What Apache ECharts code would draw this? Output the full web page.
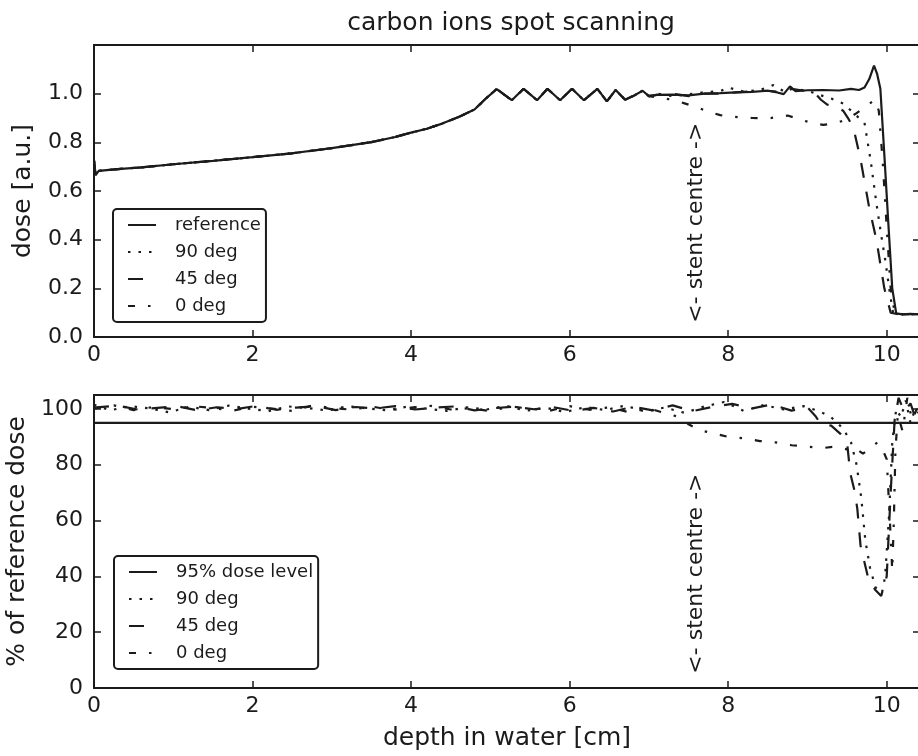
<!DOCTYPE html>
<html>
<head>
<meta charset="utf-8">
<script src="https://cdn.jsdelivr.net/npm/echarts@6/dist/echarts.min.js"></script>
<style>
  html, body { margin: 0; padding: 0; background: #fff; }
  #chart { width: 918px; height: 756px; }
</style>
</head>
<body>
<div id="chart"></div>
<script>
// ---- data ----
// top panel: dose [a.u.] vs depth [cm]
const refDepth = [0, 0.02, 0.06, 0.3, 0.6, 1.0, 1.5, 2.0, 2.5, 3.0, 3.5, 3.8, 4.0, 4.2, 4.4, 4.6, 4.8, 4.95, 5.08, 5.27,
  5.42, 5.59, 5.72, 5.88, 6.03, 6.18, 6.35, 6.47, 6.58, 6.7, 6.8, 6.92, 7.0, 7.1, 7.3, 7.5, 7.7, 7.9, 8.1, 8.3,
  8.5, 8.62, 8.7, 8.78, 8.85, 9.0, 9.2, 9.4, 9.55, 9.65, 9.72, 9.78, 9.84, 9.88, 9.92, 9.97, 10.02, 10.07, 10.12, 10.2,
  10.3, 10.42];
const refDose = [0.725, 0.665, 0.683, 0.69, 0.697, 0.71, 0.724, 0.739, 0.755, 0.776, 0.801, 0.822, 0.84, 0.856, 0.878, 0.904, 0.935, 0.982, 1.019, 0.973,
  1.02, 0.973, 1.02, 0.973, 1.02, 0.973, 1.02, 0.968, 1.015, 0.975, 0.99, 1.012, 0.99, 0.995, 0.996, 0.993, 1.0, 1.002, 1.005, 1.007,
  1.012, 1.005, 0.998, 1.03, 1.01, 1.014, 1.015, 1.013, 1.02, 1.015, 1.025, 1.06, 1.115, 1.08, 1.02, 0.75, 0.47, 0.2, 0.097, 0.093,
  0.095, 0.093];

// the angled runs follow the reference up to 7 cm, then these tails
const deg90Depth = [7.1, 7.3, 7.5, 7.7, 7.9, 8.0, 8.2, 8.4, 8.57, 8.7, 8.8, 9.0, 9.2, 9.3, 9.45, 9.6, 9.72, 9.8, 9.87, 9.93, 9.98, 10.04, 10.08, 10.2, 10.42];
const deg90Dose = [1.0, 0.99, 0.997, 1.006, 1.01, 1.025, 1.008, 1.015, 1.035, 1.01, 1.02, 1.012, 0.99, 0.98, 0.96, 0.915, 0.88, 0.72, 0.55, 0.42, 0.32, 0.18, 0.10, 0.093, 0.094];
const deg45Depth = [7.1, 7.3, 7.5, 7.7, 7.9, 8.1, 8.3, 8.5, 8.7, 8.8, 9.0, 9.1, 9.17, 9.25, 9.35, 9.45, 9.52, 9.58, 9.67, 9.78, 9.87, 9.97, 10.05, 10.15, 10.42];
const deg45Dose = [0.995, 1.0, 0.99, 1.0, 1.0, 1.005, 1.01, 1.012, 1.005, 1.02, 1.01, 1.0, 0.975, 0.955, 0.95, 0.93, 0.895, 0.86, 0.73, 0.53, 0.40, 0.20, 0.10, 0.093, 0.094];
const deg0Depth = [7.1, 7.3, 7.45, 7.6, 7.75, 7.9, 8.05, 8.3, 8.5, 8.75, 8.9, 9.05, 9.2, 9.35, 9.5, 9.62, 9.75, 9.85, 9.9, 9.95, 10.0, 10.05, 10.1, 10.2, 10.42];
const deg0Dose = [0.985, 0.975, 0.96, 0.945, 0.925, 0.912, 0.905, 0.9, 0.898, 0.91, 0.895, 0.88, 0.872, 0.878, 0.895, 0.92, 0.95, 0.975, 0.93, 0.72, 0.45, 0.2, 0.1, 0.093, 0.094];

// bottom panel: % of reference dose vs depth [cm]
const levelDepth = [0, 10.42];
const levelPct = [95, 95];
const ratio90Depth = [0, 0.2, 0.45, 0.7, 0.95, 1.2, 1.45, 1.7, 1.95, 2.2, 2.45, 2.7, 2.95, 3.2, 3.45, 3.7, 3.95, 4.2, 4.45, 4.7,
  4.95, 5.2, 5.45, 5.7, 5.95, 6.2, 6.45, 6.7, 6.95, 7.2, 7.45, 7.7, 7.95, 8.2, 8.45, 8.7, 8.95, 9.15, 9.3, 9.45,
  9.55, 9.62, 9.68, 9.73, 9.79, 9.86, 9.94, 9.98, 10.03, 10.07, 10.12, 10.18, 10.24, 10.3, 10.36, 10.42];
const ratio90Pct = [101.5, 99.5, 101, 100.2, 98.8, 100.8, 99.6, 101.2, 100.1, 99.2, 100.9, 100.3, 99.4, 101, 100.2, 99.5, 100.8, 100.1, 99.3, 100.6,
  99.8, 101.1, 99.4, 100.4, 98.9, 100.7, 99.6, 101.2, 99.1, 100.5, 98.6, 100.9, 102.5, 99.3, 101.4, 99.8, 101, 99.2, 97, 93,
  88, 80, 68, 53, 43, 36, 34, 40, 62, 88, 100, 97, 103, 95, 100, 98];
const ratio45Depth = [0, 0.3, 0.55, 0.8, 1.05, 1.3, 1.55, 1.8, 2.05, 2.3, 2.55, 2.8, 3.05, 3.3, 3.55, 3.8, 4.05, 4.3, 4.55, 4.8,
  5.05, 5.3, 5.55, 5.8, 6.05, 6.3, 6.55, 6.8, 7.05, 7.3, 7.55, 7.8, 8.05, 8.3, 8.55, 8.8, 9.0, 9.1, 9.17, 9.3,
  9.42, 9.5, 9.54, 9.6, 9.63, 9.67, 9.72, 9.77, 9.86, 9.93, 10.0, 10.05, 10.1, 10.15, 10.22, 10.3, 10.36, 10.42];
const ratio45Pct = [100.5, 101.2, 99.8, 100.4, 101, 99.5, 100.6, 100, 101.1, 99.7, 100.5, 101, 99.6, 100.7, 100.2, 101, 99.8, 100.5, 100.9, 99.5,
  100.3, 100.8, 99.9, 100.6, 99.3, 100.4, 99.1, 100.8, 99.5, 101.3, 99.2, 100.7, 101.8, 100.2, 101.6, 99.4, 100.6, 97.5, 94.5, 94,
  91, 88, 77, 70, 64, 51, 45, 39, 35, 33, 40, 70, 96, 104, 99, 102, 97, 101];
const ratio0Depth = [0, 0.25, 0.5, 0.75, 1.0, 1.25, 1.5, 1.75, 2.0, 2.25, 2.5, 2.75, 3.0, 3.25, 3.5, 3.75, 4.0, 4.25, 4.5, 4.75,
  5.0, 5.25, 5.5, 5.75, 6.0, 6.25, 6.5, 6.75, 7.0, 7.2, 7.4, 7.5, 7.6, 7.7, 7.85, 8.0, 8.2, 8.4, 8.6, 8.8,
  9.0, 9.2, 9.35, 9.5, 9.6, 9.7, 9.8, 9.88, 9.94, 10.0, 10.04, 10.07, 10.09, 10.11, 10.14, 10.2, 10.26, 10.32, 10.38, 10.42];
const ratio0Pct = [100.2, 101.3, 99.6, 100.7, 99.9, 101, 100.3, 99.4, 100.8, 100.1, 99.3, 101.2, 100.4, 99.7, 100.9, 99.6, 100.5, 101.1, 99.8, 100.3,
  99.2, 100.9, 100.1, 99.4, 101, 99.7, 100.6, 98.8, 100.2, 98.5, 97, 94.5, 93, 92, 91, 90, 89.5, 88.5, 88, 87,
  86.5, 86, 86.5, 85.5, 86, 84, 86, 88, 86, 82, 60, 42, 60, 85, 98, 92, 104, 96, 100, 97];

const stentDepth = 7.6;
const stentLabelDose = 0.47;
const stentLabelPct = 41;

// ---- styling ----
const INK = '#1b1b1b';
const FONT = 'DejaVu Sans';
const X_MAX = 10.42;
const DOTTED = [2.5, 8];
const DASHED = [15, 14];
const DASHDOT = [7, 13, 2.5, 13];

function pairs(xs, ys) {
  return xs.map((x, i) => [x, ys[i]]);
}

const headCount = refDepth.filter(d => d <= 7.0).length;
const sharedHead = pairs(refDepth.slice(0, headCount), refDose.slice(0, headCount));

function xAxisPair(grid, name) {
  const base = {
    type: 'value', gridIndex: grid, min: 0, max: X_MAX, interval: 2,
    splitLine: { show: false },
    axisLine: { onZero: false, lineStyle: { color: INK, width: 2 } },
    axisTick: { inside: true, length: 7, lineStyle: { color: INK, width: 1.5 } }
  };
  return [
    Object.assign({}, base, {
      position: 'bottom',
      axisLabel: { fontSize: 22, fontFamily: FONT, color: INK, margin: 7, showMaxLabel: false },
      name: name, nameLocation: 'middle', nameGap: 38,
      nameTextStyle: { fontSize: 25, fontFamily: FONT, color: INK }
    }),
    Object.assign({}, base, { position: 'top', axisLabel: { show: false } })
  ];
}

function yAxisPair(grid, max, interval, name, fmt) {
  const base = {
    type: 'value', gridIndex: grid, min: 0, max: max, interval: interval,
    splitLine: { show: false },
    axisLine: { onZero: false, lineStyle: { color: INK, width: 2 } },
    axisTick: { inside: true, length: 7, lineStyle: { color: INK, width: 1.5 } }
  };
  return [
    Object.assign({}, base, {
      position: 'left',
      axisLabel: { fontSize: 22, fontFamily: FONT, color: INK, margin: 11, showMaxLabel: false, formatter: fmt },
      name: name, nameLocation: 'middle', nameGap: 58,
      nameTextStyle: { fontSize: 25, fontFamily: FONT, color: INK }
    }),
    Object.assign({}, base, { position: 'right', axisLabel: { show: false } })
  ];
}

function curve(name, xi, yi, data, dash, z) {
  return {
    name: name, type: 'line', xAxisIndex: xi, yAxisIndex: yi, data: data,
    symbol: 'none', z: z,
    lineStyle: { color: INK, width: 2.2, type: dash, cap: 'butt' },
    itemStyle: { color: INK }
  };
}

// legend: line sample only, the marker symbol is made invisible
const legendBase = {
  orient: 'vertical', itemWidth: 28, itemHeight: 14, itemGap: 7,
  padding: [6, 5, 6, 14],
  borderColor: INK, borderWidth: 2, borderRadius: 4, backgroundColor: '#fff',
  selectedMode: false,
  itemStyle: { opacity: 0, borderWidth: 0 },
  textStyle: { fontSize: 18, fontFamily: FONT, color: INK, lineHeight: 20, padding: [0, 0, 0, 14] }
};

const chart = echarts.init(document.getElementById('chart'));
chart.setOption({
  animation: false,
  backgroundColor: '#fff',
  title: {
    text: 'carbon ions spot scanning', left: 506, top: 6, textAlign: 'center',
    textStyle: { fontSize: 25, fontWeight: 'normal', fontFamily: FONT, color: INK }
  },
  grid: [
    { left: 94, top: 45, width: 826, height: 292, outerBoundsMode: 'none' },
    { left: 94, top: 395, width: 826, height: 293, outerBoundsMode: 'none' }
  ],
  xAxis: xAxisPair(0, '').concat(xAxisPair(1, 'depth in water [cm]')),
  yAxis: yAxisPair(0, 1.2, 0.2, 'dose [a.u.]', v => v.toFixed(1))
    .concat(yAxisPair(1, 105, 20, '% of reference dose', v => String(v))),
  legend: [
    Object.assign({}, legendBase, { left: 113, top: 209, data: ['reference', '90 deg', '45 deg', '0 deg'] }),
    Object.assign({}, legendBase, { left: 114, top: 556, data: ['95% dose level', '90 deg', '45 deg', '0 deg'] })
  ],
  series: [
    curve('0 deg', 0, 0, sharedHead.concat(pairs(deg0Depth, deg0Dose)), DASHDOT, 2),
    curve('45 deg', 0, 0, sharedHead.concat(pairs(deg45Depth, deg45Dose)), DASHED, 3),
    curve('90 deg', 0, 0, sharedHead.concat(pairs(deg90Depth, deg90Dose)), DOTTED, 4),
    curve('reference', 0, 0, pairs(refDepth, refDose), 'solid', 5),
    curve('0 deg', 2, 2, pairs(ratio0Depth, ratio0Pct), DASHDOT, 2),
    curve('45 deg', 2, 2, pairs(ratio45Depth, ratio45Pct), DASHED, 3),
    curve('90 deg', 2, 2, pairs(ratio90Depth, ratio90Pct), DOTTED, 4),
    curve('95% dose level', 2, 2, pairs(levelDepth, levelPct), 'solid', 5)
  ]
});

// rotated "stent centre" notes placed through the axes' own scales
const topPos = chart.convertToPixel({ xAxisIndex: 0, yAxisIndex: 0 }, [stentDepth, stentLabelDose]);
const botPos = chart.convertToPixel({ xAxisIndex: 2, yAxisIndex: 2 }, [stentDepth, stentLabelPct]);
chart.setOption({
  graphic: [topPos, botPos].map(p => ({
    type: 'text', x: p[0], y: p[1], rotation: Math.PI / 2, z: 10,
    style: { text: '<- stent centre ->', fontSize: 22, fontFamily: FONT, fill: INK, align: 'center', verticalAlign: 'middle' }
  }))
});
</script>
</body>
</html>
